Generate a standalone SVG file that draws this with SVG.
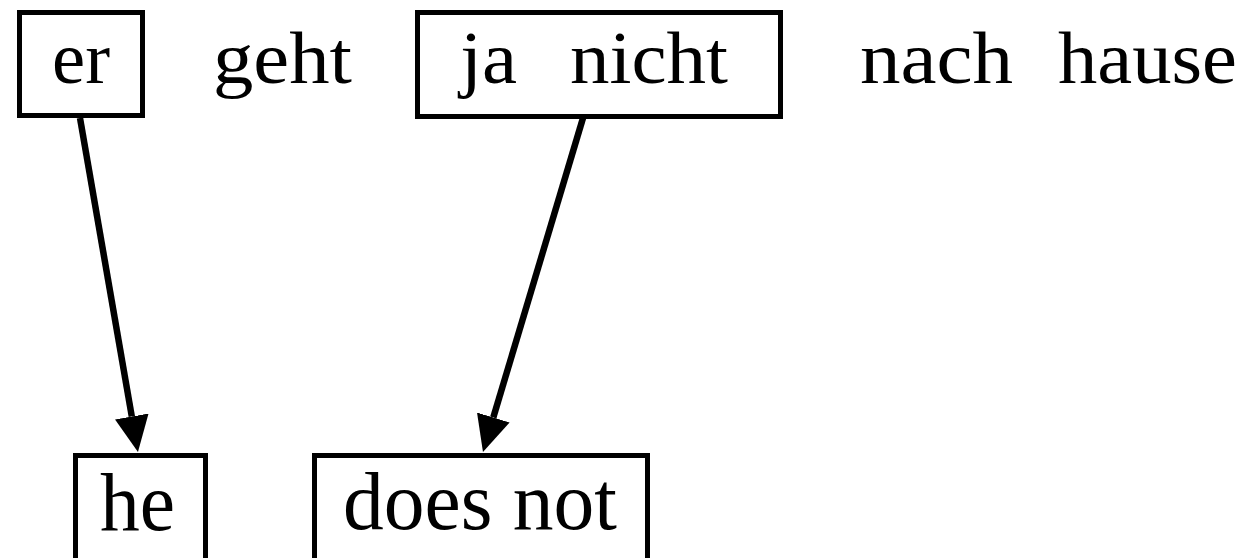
<svg xmlns="http://www.w3.org/2000/svg" width="1259" height="558" viewBox="0 0 1259 558">
<style>
.box{fill:#fff;stroke:#000;stroke-width:5}
.t{font-family:"Liberation Serif","Times New Roman",serif;fill:#000}
.top{font-size:75px}
.bot{font-size:82px}
.edge{stroke:#000;stroke-width:6.5;fill:none}
</style>
<defs>
<marker id="ah" markerUnits="userSpaceOnUse" markerWidth="40" markerHeight="40" viewBox="0 -20 40 40" refX="0" refY="0" orient="auto">
<path d="M0,-17 L36,0 L0,17 Z" fill="#000"/>
</marker>
</defs>
<rect width="1259" height="558" fill="#fff"/>
<g id="n-er">
<rect class="box" x="19.5" y="12.5" width="123" height="103"/>
<text class="t top" x="52" y="83" textLength="58" lengthAdjust="spacingAndGlyphs">er</text>
</g>
<g id="n-geht">
<text class="t top" x="213" y="83" textLength="139" lengthAdjust="spacingAndGlyphs">geht</text>
</g>
<g id="n-janicht">
<rect class="box" x="417.5" y="12.5" width="363" height="104"/>
<text class="t top" x="460" y="83" textLength="57" lengthAdjust="spacingAndGlyphs">ja</text>
<text class="t top" x="570" y="83" textLength="158" lengthAdjust="spacingAndGlyphs">nicht</text>
</g>
<g id="n-nachhause">
<text class="t top" x="860" y="83" textLength="153" lengthAdjust="spacingAndGlyphs">nach</text>
<text class="t top" x="1058" y="83" textLength="179" lengthAdjust="spacingAndGlyphs">hause</text>
</g>
<g id="n-he">
<rect class="box" x="75.5" y="455.5" width="130" height="120"/>
<text class="t bot" x="100" y="530" textLength="75" lengthAdjust="spacingAndGlyphs">he</text>
</g>
<g id="n-doesnot">
<rect class="box" x="314.5" y="455.5" width="333" height="120"/>
<text class="t bot" x="343" y="529" textLength="274" lengthAdjust="spacingAndGlyphs">does not</text>
</g>
<g id="connectors">
<line class="edge" x1="80" y1="118" x2="131.8" y2="416.5" marker-end="url(#ah)"/>
<line class="edge" x1="583" y1="118" x2="493.3" y2="417.5" marker-end="url(#ah)"/>
</g>
</svg>
